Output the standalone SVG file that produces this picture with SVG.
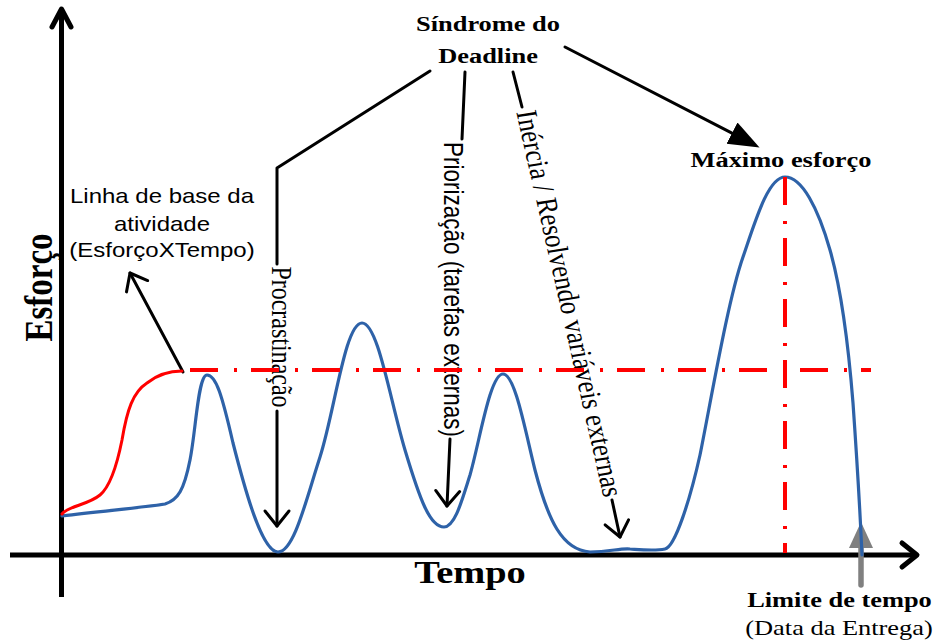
<svg xmlns="http://www.w3.org/2000/svg" width="937" height="642" viewBox="0 0 937 642">
<style>
.serif{font-family:"Liberation Serif","Times New Roman",serif;fill:#000}
.sans{font-family:"Liberation Sans",Arial,sans-serif;fill:#000}
.b{font-weight:bold}
.conn{stroke:#000;stroke-width:3;fill:none;stroke-linecap:round;stroke-linejoin:round}
.axis{stroke:#000;stroke-width:5;fill:none}
.blue{stroke:#2e62a8;stroke-width:3.2;fill:none;stroke-linecap:round;stroke-linejoin:round}
.red{stroke:#ff0000;stroke-width:3;fill:none;stroke-linecap:round}
.dash{stroke:#ff0000;stroke-width:4;fill:none;stroke-dasharray:28 16 3 14}
</style>
<defs>
<marker id="chev" markerUnits="userSpaceOnUse" viewBox="-20 -15 24 30" markerWidth="24" markerHeight="30" refX="0" refY="0" orient="auto">
<path d="M-15,-12 L0,0 L-15,12" fill="none" stroke="#000" stroke-width="3" stroke-linecap="round" stroke-linejoin="round"/>
</marker>
<marker id="tri" markerUnits="userSpaceOnUse" viewBox="0 -13 32 26" markerWidth="32" markerHeight="26" refX="0" refY="0" orient="auto">
<path d="M31,0 L0,-12 L0,12 Z" fill="#000"/>
</marker>
<marker id="trigray" markerUnits="userSpaceOnUse" viewBox="0 -13 28 26" markerWidth="28" markerHeight="26" refX="0" refY="0" orient="auto">
<path d="M26,0 L0,-12 L0,12 Z" fill="#808080"/>
</marker>
</defs>
<rect width="937" height="642" fill="#fff"/>

<g id="connectors">
<polyline class="conn" points="430,71 277,168 277,264"/>
<line class="conn" x1="277" y1="411" x2="277" y2="526" marker-end="url(#chev)"/>
<polyline class="conn" points="465,72 462,139"/>
<line class="conn" x1="450" y1="439" x2="447" y2="506" marker-end="url(#chev)"/>
<polyline class="conn" points="513,72 522,107"/>
<line class="conn" x1="612" y1="500" x2="620" y2="537" marker-end="url(#chev)"/>
<line class="conn" x1="565" y1="47" x2="732" y2="133.2" marker-end="url(#tri)"/>
<line class="conn" x1="183" y1="372" x2="130" y2="273" marker-end="url(#chev)"/>
</g>

<g id="sindrome">
<text class="serif b" font-size="22" text-anchor="middle" transform="translate(488,31) scale(1.2,1)">Síndrome do</text>
<text class="serif b" font-size="22" text-anchor="middle" transform="translate(488,63) scale(1.2,1)">Deadline</text>
</g>
<g id="maximo">
<text class="serif b" font-size="22" text-anchor="middle" transform="translate(781,167) scale(1.2,1)">Máximo esforço</text>
</g>
<g id="linha-base">
<text class="sans" font-size="20" text-anchor="middle" transform="translate(162,203) scale(1.2,1)">Linha de base da</text>
<text class="sans" font-size="20" text-anchor="middle" transform="translate(162,231) scale(1.2,1)">atividade</text>
<text class="sans" font-size="20" text-anchor="middle" transform="translate(162,257) scale(1.2,1)">(EsforçoXTempo)</text>
</g>
<g id="procrastinacao">
<text class="serif" font-size="24" text-anchor="middle" y="6" transform="translate(279.5,337) scale(1.2,1) rotate(90)">Procrastinação</text>
</g>
<g id="priorizacao">
<text class="sans" font-size="22.5" text-anchor="middle" y="5.5" transform="translate(450.5,289.5) scale(1.2,1) rotate(90)">Priorização (tarefas externas)</text>
</g>
<g id="inercia">
<text class="serif" font-size="25" text-anchor="middle" y="6" transform="translate(567,304) scale(1.2,1) rotate(79.3)">Inércia / Resolvendo variáveis externas</text>
</g>
<g id="esforco">
<text class="serif b" font-size="33" text-anchor="middle" transform="translate(52,287.5) scale(1.2,1) rotate(-90)">Esforço</text>
</g>
<g id="tempo">
<text class="serif b" font-size="32" text-anchor="middle" transform="translate(470,583) scale(1.2,1)">Tempo</text>
</g>
<g id="limite">
<text class="serif b" font-size="22" text-anchor="middle" transform="translate(839.5,607) scale(1.2,1)">Limite de tempo</text>
<text class="serif" font-size="22" text-anchor="middle" transform="translate(839,635) scale(1.2,1)">(Data da Entrega)</text>
</g>

<g id="axes">
<line class="axis" x1="61.5" y1="597" x2="61.5" y2="10"/>
<polyline class="axis" points="52,27 61.5,9 71,27" stroke-linejoin="round" stroke-linecap="round"/>
<line class="axis" x1="10" y1="555" x2="916" y2="555"/>
<polyline class="axis" points="902,543 917,555 902,567" stroke-linejoin="round" stroke-linecap="round"/>
</g>

<g id="limite-arrow">
<line x1="861" y1="585" x2="861" y2="548" stroke="#808080" stroke-width="5.5" stroke-linecap="round" marker-end="url(#trigray)"/>
</g>

<g id="curves">
<path class="blue" d="M62,516 C100,511 140,508 165,504 C178,500 184,490 190,460 C196,430 198,375 207,375 C216,375 222,395 233,443 C245,490 262,552 278,552 C294,552 306,500 320,457 C335,410 345,323 362,323 C378,323 390,400 405,450 C420,500 430,527 444,527 C455,527 462,500 470,475 C480,440 490,374 503,374 C515,374 525,430 535,470 C548,520 562,550 590,552 C610,552 620,548 630,549 C645,550 655,551 665,549 C675,547 690,500 700,455 C712,395 728,300 743,257 C755,222 768,177 785,177 C802,177 818,208 830,250 C840,285 848,340 853,403 C857,460 860,510 862,555"/>
<path class="red" d="M62,514 C68,506 88,505 100,495 C112,485 118,460 122,440 C127,410 133,392 147,383 C157,375 168,371 182,371"/>
<line class="dash" x1="190" y1="370" x2="871" y2="370"/>
<line class="dash" x1="785" y1="177" x2="785" y2="553"/>
</g>
</svg>
